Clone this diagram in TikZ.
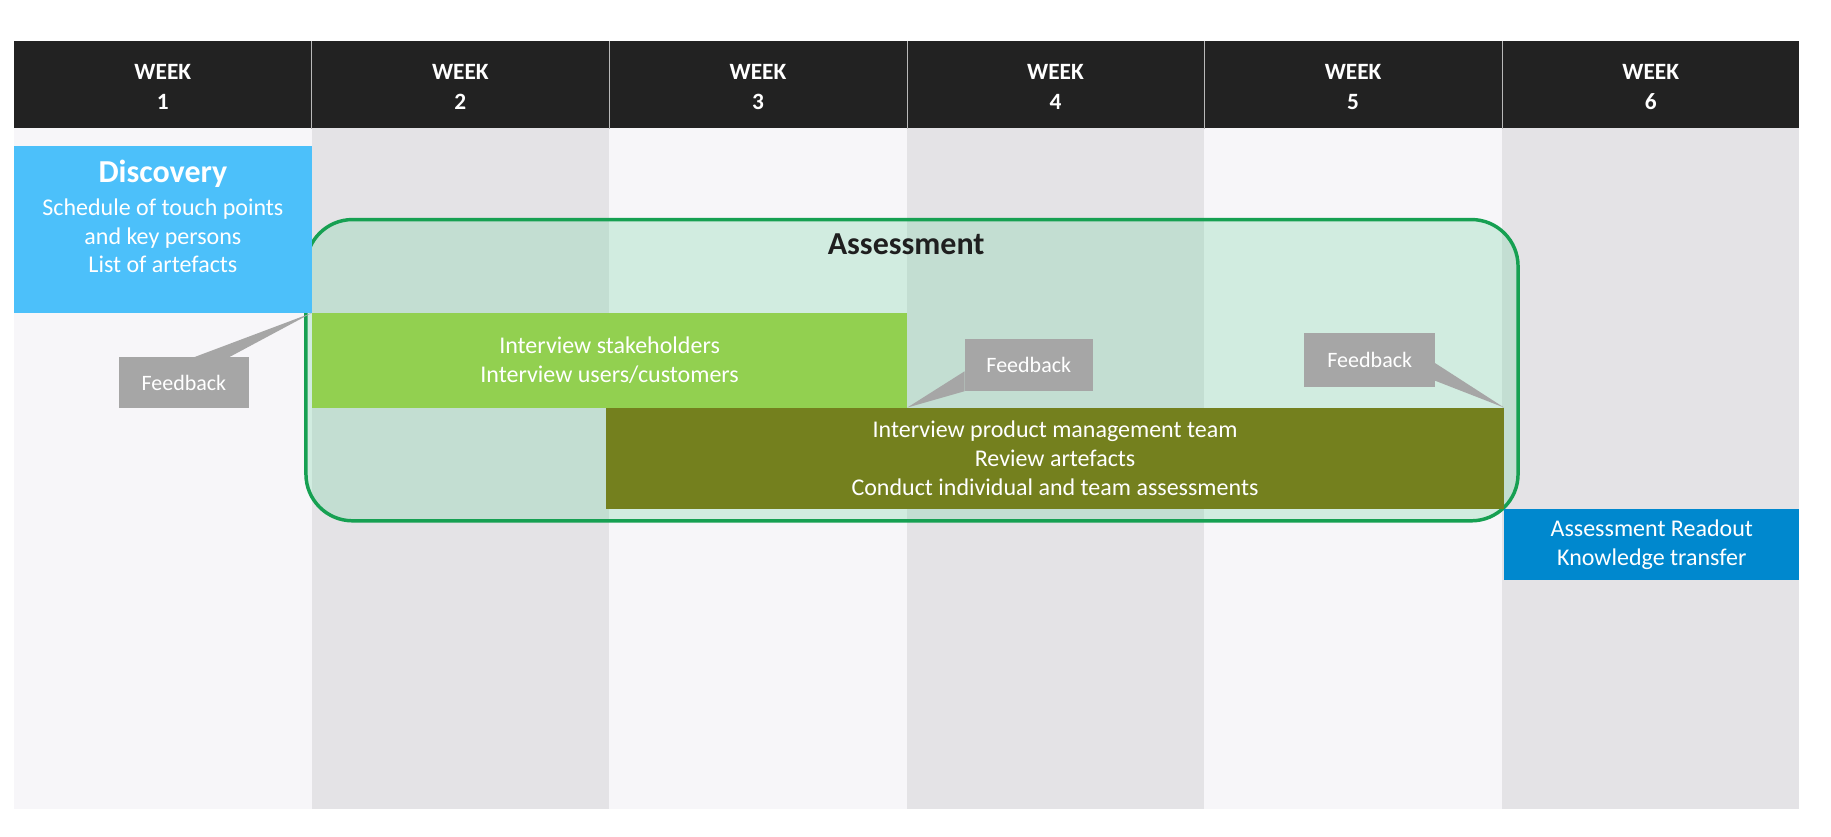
\documentclass[tikz,border=0pt]{standalone}
\usepackage{fontspec}
\setmainfont{Carlito}
\usetikzlibrary{positioning}
\definecolor{headbg}{RGB}{34,34,34}
\definecolor{collight}{RGB}{247,246,249}
\definecolor{coldark}{RGB}{228,227,230}
\definecolor{discblue}{RGB}{76,192,250}
\definecolor{assgreen}{RGB}{103,208,154}
\definecolor{assline}{RGB}{22,160,82}
\definecolor{intgreen}{RGB}{146,208,80}
\definecolor{olivebar}{RGB}{116,128,30}
\definecolor{readblue}{RGB}{0,136,206}
\definecolor{fbgray}{RGB}{166,166,166}
\newcommand{\pu}{0.8758pt}

\begin{document}
\begin{tikzpicture}[x=0.8758pt,y=-0.8758pt,
	box/.style={anchor=north west,inner sep=0pt,outer sep=0pt},
	txt/.style={text=white,align=center,font=\fontsize{18}{21.5}\selectfont},
	head/.style={fill=headbg,text=white,align=center,inner sep=0pt,
		minimum width=254.83*\pu,minimum height=75*\pu,
		font=\bfseries\fontsize{17.5}{22}\selectfont},
	fb/.style={box,fill=fbgray,text=white,font=\fontsize{16.5}{18}\selectfont}]
	
	\useasboundingbox (0,0) rectangle (1568,716);
	
	% week columns
	\foreach \i/\c in {0/collight,1/coldark,2/collight,3/coldark,4/collight,5/coldark}
	\fill[\c] (12+254.83*\i,110) rectangle (12+254.83*\i+254.83,693);
	
	\foreach \i in {1,...,6}
	\node[head, text depth=0pt] (wk\i) at (12+254.83*\i-127.4,72.5) {};
	\foreach \i in {1,...,6}
	\node[text=white, align=center, font=\bfseries\fontsize{17.5}{22}\selectfont] (wklabel\i) at (12+254.83*\i-127.4,74.5) {WEEK\\\i};
	\foreach \i in {1,...,5}
	\draw[gray!55, line width=0.7pt] (wk\i.north east) -- (wk\i.south east);
	
	% assessment frame
	\draw[assline, line width=2.6pt, fill=assgreen, fill opacity=0.26, rounded corners=35pt]
	(262,188) rectangle (1300,446);
	\node[font=\bfseries\fontsize{24}{27}\selectfont, text=black!88] (assess) at (776,209) {Assessment};
	
	% phase boxes
	\node[box, fill=discblue, minimum width=255*\pu, minimum height=143*\pu] (disc) at (12,125) {};
	\node[font=\bfseries\fontsize{24}{27}\selectfont, text=white] (disctitle) at (139.5,149) {Discovery};
	\node[txt] (disctext) at (139.5,202) {Schedule of touch points\\and key persons\\List of artefacts};
	
	\node[box, fill=intgreen, minimum width=510*\pu, minimum height=81*\pu, txt] (interv) at (267,268)
	{Interview stakeholders\\Interview users/customers};
	\node[box, fill=olivebar, minimum width=769*\pu, minimum height=87*\pu, txt] (review) at (519,349)
	{Interview product management team\\Review artefacts\\Conduct individual and team assessments};
	\node[box, fill=readblue, minimum width=253*\pu, minimum height=61*\pu, txt] (readout) at (1288,436)
	{Assessment Readout\\Knowledge transfer};
	
	% feedback callouts
	\node[fb, minimum width=111*\pu, minimum height=43*\pu] (fb1) at (102,306) {Feedback};
	\node[fb, minimum width=110*\pu, minimum height=45*\pu] (fb2) at (826,290) {Feedback};
	\node[fb, minimum width=112*\pu, minimum height=46*\pu] (fb3) at (1117,285) {Feedback};
	
	\fill[fbgray] ([xshift=7.4pt]fb1.north) -- (disc.south east) -- ([xshift=33.7pt]fb1.north) -- cycle;
	\fill[fbgray] ([yshift=-4.8pt]fb2.west) -- (interv.south east) -- (fb2.south west) -- cycle;
	\fill[fbgray] ([yshift=-2.6pt]fb3.east) -- (review.north east) -- ([yshift=-15.8pt]fb3.east) -- cycle;
	
\end{tikzpicture}
\end{document}
